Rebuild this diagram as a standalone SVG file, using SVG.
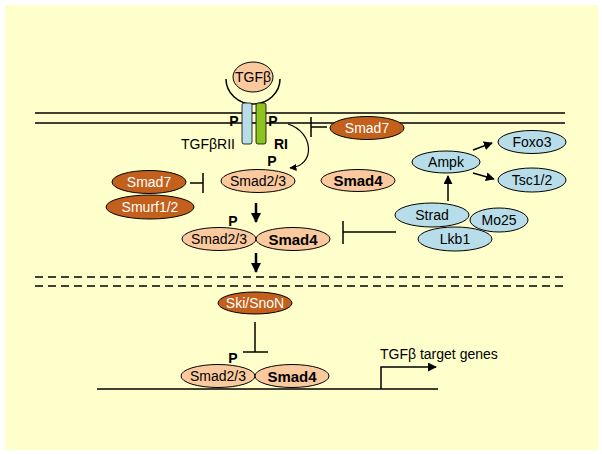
<svg xmlns="http://www.w3.org/2000/svg" width="602" height="454" viewBox="0 0 602 454">
<defs>
<marker id="ah" viewBox="0 0 10 10" refX="9" refY="5" markerWidth="4" markerHeight="4" orient="auto" markerUnits="strokeWidth"><path d="M0,0 L10,5 L0,10 z" fill="#000"/></marker>
<marker id="ahs" viewBox="0 0 10 10" refX="9" refY="5" markerWidth="6" markerHeight="6" orient="auto" markerUnits="strokeWidth"><path d="M0,0 L10,5 L0,10 z" fill="#000"/></marker>
</defs>
<style>
.t{font-family:"Liberation Sans",Arial,sans-serif;font-size:14px;text-anchor:middle;dominant-baseline:central;fill:#000}
.b{font-weight:bold;font-size:15px}
.w{fill:#fff}
.dk{fill:#C2601C;stroke:#000;stroke-width:1}
.lt{fill:#FAC99E;stroke:#000;stroke-width:1}
.bl{fill:#B7DDE8;stroke:#000;stroke-width:1}
.ln{stroke:#000;stroke-width:1.5;fill:none}
.th{stroke:#000;stroke-width:2.5;fill:none}
</style>
<rect x="0" y="0" width="602" height="454" fill="#fff"/>
<rect x="5" y="5" width="593" height="445" fill="#FFFFCC"/>

<g id="membrane">
<line x1="35" y1="113" x2="565" y2="113" class="ln"/>
<line x1="35" y1="123" x2="565" y2="123" class="ln"/>
</g>
<g id="nucmembrane">
<line x1="35" y1="277" x2="565" y2="277" class="ln" stroke-dasharray="8,5"/>
<line x1="35" y1="286" x2="565" y2="286" class="ln" stroke-dasharray="8,5"/>
</g>

<g id="receptor">
<path d="M226,79 A27,25 0 0 0 280,79" class="ln"/>
<rect x="242" y="103" width="10" height="41" rx="2" fill="#B7DDE8" stroke="#000" stroke-width="0.8"/>
<rect x="256" y="103" width="10" height="41" rx="2" fill="#8DC21F" stroke="#000" stroke-width="0.8"/>
<text x="234" y="121" class="t" font-weight="bold">P</text>
<text x="273" y="121" class="t" font-weight="bold">P</text>
<text x="208" y="144" class="t" font-size="13.5">TGFβRII</text>
<text x="281" y="144" class="t" font-weight="bold">RI</text>
</g>

<g id="tgfb">
<ellipse cx="253" cy="77" rx="20" ry="15" class="lt"/>
<text x="253" y="77" class="t">TGFβ</text>
</g>

<g id="connectors">
<path d="M288,124 C314,132 316,166 290,168" stroke="#000" stroke-width="1.2" fill="none" marker-end="url(#ahs)"/>
<line x1="327" y1="127" x2="311" y2="127" class="ln"/>
<line x1="311" y1="117" x2="311" y2="137" class="ln"/>
<line x1="190" y1="183" x2="203" y2="183" class="ln"/>
<line x1="203" y1="173" x2="203" y2="193" class="ln"/>
<line x1="256" y1="203" x2="256" y2="222" class="th" marker-end="url(#ah)"/>
<line x1="256" y1="253" x2="256" y2="272" class="th" marker-end="url(#ah)"/>
<line x1="396" y1="232" x2="343" y2="232" class="ln"/>
<line x1="343" y1="221" x2="343" y2="244" class="ln"/>
<line x1="448" y1="201" x2="448" y2="176" class="ln" marker-end="url(#ahs)"/>
<line x1="473" y1="150" x2="492" y2="143" class="ln" marker-end="url(#ahs)"/>
<line x1="473" y1="173" x2="494" y2="179" class="ln" marker-end="url(#ahs)"/>
<line x1="255" y1="322" x2="255" y2="352" class="ln"/>
<line x1="243" y1="352" x2="268" y2="352" class="ln"/>
<line x1="97" y1="389" x2="438" y2="389" class="ln"/>
<polyline points="381,389 381,367 436,367" class="ln" marker-end="url(#ahs)"/>
</g>

<g id="smad7-membrane">
<ellipse cx="367" cy="128" rx="37" ry="11.5" class="dk"/>
<text x="367" y="128" class="t w">Smad7</text>
</g>

<text x="272" y="161" class="t" font-weight="bold">P</text>
<g id="smad23-top">
<ellipse cx="258" cy="181" rx="37" ry="11.5" class="lt"/>
<text x="258" y="181" class="t">Smad2/3</text>
</g>
<g id="smad4-top">
<ellipse cx="358" cy="180.5" rx="37" ry="11" class="lt"/>
<text x="358" y="180.5" class="t b">Smad4</text>
</g>
<g id="smad7-left">
<ellipse cx="149" cy="182" rx="37" ry="11.5" class="dk"/>
<text x="149" y="182" class="t w">Smad7</text>
</g>
<g id="smurf">
<ellipse cx="150" cy="207" rx="44" ry="12" class="dk"/>
<text x="150" y="207" class="t w">Smurf1/2</text>
</g>

<text x="233" y="221" class="t" font-weight="bold">P</text>
<g id="smad23-mid">
<ellipse cx="219" cy="239" rx="37" ry="11.5" class="lt"/>
<text x="219" y="239" class="t">Smad2/3</text>
</g>
<g id="smad4-mid">
<ellipse cx="293" cy="239" rx="37" ry="11.5" class="lt"/>
<text x="293" y="239" class="t b">Smad4</text>
</g>

<g id="ampk">
<ellipse cx="446" cy="162" rx="34" ry="11" class="bl"/>
<text x="446" y="162" class="t">Ampk</text>
</g>
<g id="foxo3">
<ellipse cx="532" cy="142" rx="34" ry="11.5" class="bl"/>
<text x="532" y="142" class="t">Foxo3</text>
</g>
<g id="tsc">
<ellipse cx="532" cy="180" rx="34" ry="12" class="bl"/>
<text x="532" y="180" class="t">Tsc1/2</text>
</g>
<g id="strad">
<ellipse cx="432" cy="215" rx="37" ry="12" class="bl"/>
<text x="432" y="215" class="t">Strad</text>
</g>
<g id="lkb1">
<ellipse cx="455" cy="239" rx="37" ry="12" class="bl"/>
<text x="455" y="239" class="t">Lkb1</text>
</g>
<g id="mo25">
<ellipse cx="499" cy="220" rx="29" ry="12" class="bl"/>
<text x="499" y="220" class="t">Mo25</text>
</g>

<g id="skisnon">
<ellipse cx="255" cy="303" rx="37" ry="11" class="dk"/>
<text x="255" y="303" class="t w">Ski/SnoN</text>
</g>

<text x="233" y="358" class="t" font-weight="bold">P</text>
<g id="smad23-bottom">
<ellipse cx="218" cy="376" rx="37" ry="11.5" class="lt"/>
<text x="218" y="376" class="t">Smad2/3</text>
</g>
<g id="smad4-bottom">
<ellipse cx="292" cy="376" rx="37" ry="11.5" class="lt"/>
<text x="292" y="376" class="t b">Smad4</text>
</g>
<text x="380" y="354" class="t" style="text-anchor:start">TGFβ target genes</text>
</svg>
